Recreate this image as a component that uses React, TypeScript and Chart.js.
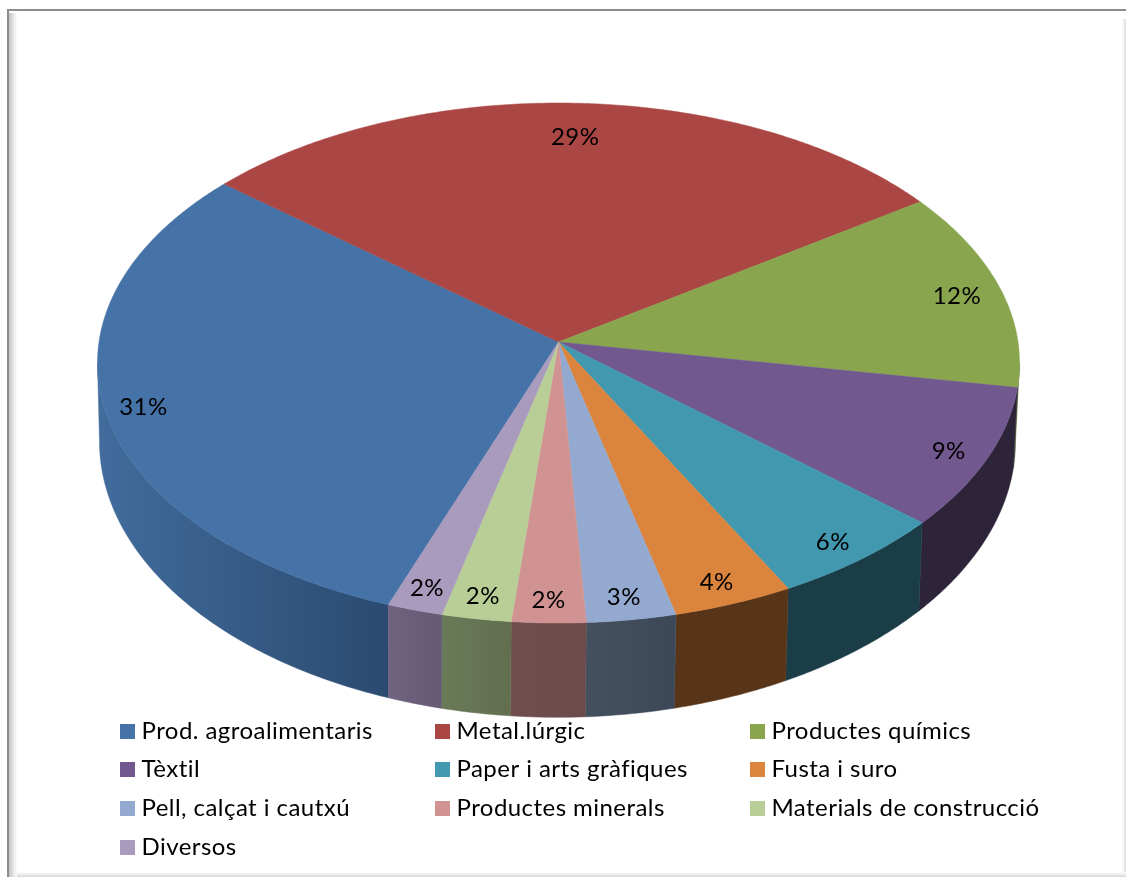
import React, { useEffect, useRef } from "react";
import { Chart, registerables } from "chart.js";

Chart.register(...registerables);

const categories = [
  "Prod. agroalimentaris", "Metal.lúrgic", "Productes químics",
  "Tèxtil", "Paper i arts gràfiques", "Fusta i suro",
  "Pell, calçat i cautxú", "Productes minerals", "Materials de construcció",
  "Diversos",
];
const shares = [30.6, 29.3, 12.4, 8.75, 5.8, 3.9, 2.9, 2.4, 2.25, 1.8];
const percentLabels = ["31%", "29%", "12%", "9%", "6%", "4%", "3%", "2%", "2%", "2%"];
const faceColors = ["#4572A7", "#AA4643", "#89A54E", "#71588F", "#4198AF", "#DB843D", "#93A9CF", "#D19392", "#B9CD96", "#A99BBD"];
const sideLight = ["#416C9C", "#6b2c2a", "#56683a", "#2E2439", "#1B3D47", "#583519", "#45505F", "#704E4E", "#6A7A57", "#6F6380"];
const sideDark = ["#2B4A70", "#6b2c2a", "#56683a", "#2E2439", "#1B3D47", "#583519", "#3C4858", "#6B4B4B", "#626F4F", "#655A74"];

const W = 1126, H = 877;
const FONT = "Lato";
const TOP = { x: 558.5, y: 342, a: 459.5, b: 258.3 };
const BOTTOM = { x: 557.5, y: 419, a: 456.5, b: 274.2 };
const P = -0.0808;
const SIL = Math.asin(0.0808);

function project(angle: number, r = 1, bottom = false) {
  const f = bottom ? BOTTOM : TOP;
  const X = Math.cos(angle) * r, Y = Math.sin(angle) * r;
  const w = 1 + P * Y;
  return { x: f.x + (f.a * X) / w, y: f.y + (f.b * Y) / w };
}

const sweep = (a: number, b: number) => {
  const pts: number[] = [];
  const n = Math.max(2, Math.ceil(((b - a) * 180) / Math.PI / 0.5));
  for (let i = 0; i <= n; i++) pts.push(a + ((b - a) * i) / n);
  return pts;
};

const piePlugin = {
  id: "pie3d",
  beforeDraw(chart: any) {
    const c = chart.ctx;
    c.save();
    c.fillStyle = "#fff";
    c.fillRect(0, 0, W, H);
    let g = c.createLinearGradient(9, 0, 17, 0);
    g.addColorStop(0, "#c4c4c4");
    g.addColorStop(1, "#ffffff");
    c.fillStyle = g;
    c.fillRect(9, 13, 8, 864);
    g = c.createLinearGradient(1122, 0, 1126, 0);
    g.addColorStop(0, "#ffffff");
    g.addColorStop(1, "#dcdcdc");
    c.fillStyle = g;
    c.fillRect(1122, 19, 4, 858);
    g = c.createLinearGradient(0, 872, 0, 877);
    g.addColorStop(0, "#ffffff");
    g.addColorStop(1, "#d8d8d8");
    c.fillStyle = g;
    c.fillRect(17, 872, 1109, 5);
    c.fillStyle = "#8c8c8c";
    c.fillRect(7, 9, 1119, 2);
    c.fillRect(7, 9, 2, 868);
    c.restore();
  },
  beforeDatasetDraw(chart: any) {
    const c = chart.ctx;
    const arcs = chart.getDatasetMeta(0).data;
    c.save();
    const lo = SIL, hi = Math.PI - SIL, turn = Math.PI * 2;
    arcs.forEach((arc: any, i: number) => {
      for (const k of [0, 1]) {
        const s = Math.max(arc.startAngle, lo + k * turn);
        const e = Math.min(arc.endAngle, hi + k * turn);
        if (e <= s) continue;
        const angles = sweep(s, e);
        const top = angles.map((a) => project(a));
        const bot = angles.map((a) => project(a, 1, true));
        const xs = [...top, ...bot].map((p) => p.x);
        const g = c.createLinearGradient(Math.min(...xs), 0, Math.max(...xs), 0);
        g.addColorStop(0, sideLight[i]);
        g.addColorStop(1, sideDark[i]);
        c.fillStyle = g;
        c.strokeStyle = g;
        c.lineWidth = 0.5;
        c.beginPath();
        top.forEach((p, j) => (j ? c.lineTo(p.x, p.y) : c.moveTo(p.x, p.y)));
        bot.reverse().forEach((p) => c.lineTo(p.x, p.y));
        c.closePath();
        c.fill();
        c.stroke();
      }
    });
    arcs.forEach((arc: any, i: number) => {
      c.fillStyle = faceColors[i];
      c.strokeStyle = faceColors[i];
      c.lineWidth = 0.5;
      c.beginPath();
      c.moveTo(TOP.x, TOP.y);
      sweep(arc.startAngle, arc.endAngle).forEach((a) => {
        const p = project(a);
        c.lineTo(p.x, p.y);
      });
      c.closePath();
      c.fill();
      c.stroke();
    });
    c.restore();
    return false;
  },
  afterDatasetsDraw(chart: any) {
    const c = chart.ctx;
    const arcs = chart.getDatasetMeta(0).data;
    c.save();
    c.fillStyle = "#000";
    c.font = `24px ${FONT}`;
    c.letterSpacing = "0.45px";
    c.textAlign = "center";
    c.textBaseline = "middle";
    arcs.forEach((arc: any, i: number) => {
      const mid = (arc.startAngle + arc.endAngle) / 2;
      const r = 0.915 - 0.055 * Math.max(0, -Math.sin(mid));
      const p = project(mid, r);
      c.fillText(percentLabels[i], p.x - 1, p.y + 3);
    });
    const colX = [120, 435, 750];
    const rowY = [724, 762, 801, 840];
    c.textAlign = "left";
    chart.data.labels.forEach((label: string, i: number) => {
      const x = colX[i % 3], y = rowY[Math.floor(i / 3)];
      c.fillStyle = faceColors[i];
      c.fillRect(x, y, 15, 15);
      c.fillStyle = "#000";
      c.fillText(label, x + 21.5, y + 7);
    });
    c.restore();
  },
};

export default function App() {
  const ref = useRef<HTMLCanvasElement>(null);
  useEffect(() => {
    const chart = new Chart(ref.current as HTMLCanvasElement, {
      type: "pie",
      data: {
        labels: categories,
        datasets: [{ data: shares, backgroundColor: faceColors, borderWidth: 0 }],
      },
      options: {
        animation: false,
        responsive: false,
        rotation: 200,
        plugins: { legend: { display: false }, tooltip: { enabled: false } },
      },
      plugins: [piePlugin],
    } as any);
    return () => chart.destroy();
  }, []);
  return (
    <div style={{ position: "absolute", left: 0, top: 0, width: W, height: H }}>
      <canvas ref={ref} width={W} height={H} style={{ display: "block" }} />
    </div>
  );
}
